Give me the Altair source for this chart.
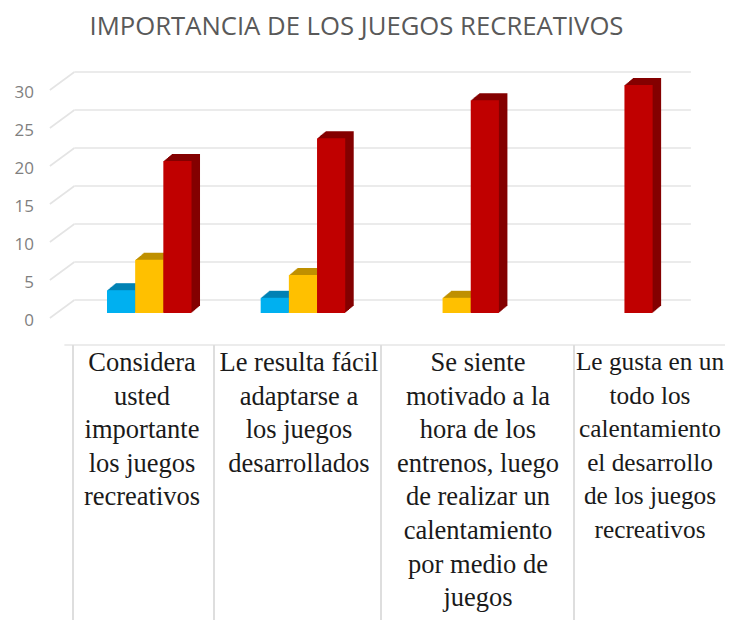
import altair as alt
import pandas as pd

categories = ["Considera usted importante los juegos recreativos",
              "Le resulta fácil adaptarse a los juegos desarrollados",
              "Se siente motivado a la hora de los entrenos, luego de realizar un calentamiento por medio de juegos",
              "Le gusta en un todo los calentamiento el desarrollo de los juegos recreativos"]
series_names = ["A", "B", "C"]
values_a = [3, 2, 0, 0]
values_b = [7, 5, 2, 0]
values_c = [20, 23, 28, 30]
front_colors = ["#00b0f0", "#ffc000", "#c00000"]
dark_colors = ["#0082b4", "#bf9000", "#840000"]
ticks = [0, 5, 10, 15, 20, 25, 30]
label_lines = [
    ["Considera", "usted", "importante", "los juegos", "recreativos"],
    ["Le resulta fácil", "adaptarse a", "los juegos", "desarrollados"],
    ["Se siente", "motivado a la", "hora de los", "entrenos, luego", "de realizar un", "calentamiento", "por medio de", "juegos"],
    ["Le gusta en un", "todo los", "calentamiento", "el desarrollo", "de los juegos", "recreativos"],
]
title_text = "IMPORTANCIA DE LOS JUEGOS RECREATIVOS"

rows = []
for si, (name, vals) in enumerate(zip(series_names, [values_a, values_b, values_c])):
    for ci, v in enumerate(vals):
        if v > 0:
            rows.append({"cat": ci, "s": si, "series": name, "value": v})
df = pd.DataFrame(rows)
grid_df = pd.DataFrame({"v": ticks})

PLOT_W, PLOT_H = 614.8, 228
yscale = alt.Scale(domain=[0, 30], nice=False, zero=True)
xscale = alt.Scale(domain=[0, 4], nice=False, zero=True)
yaxis = alt.Axis(values=ticks, grid=False, domain=False, ticks=False, title=None, labelOverlap=False,
                 labelPadding=39, labelOffset=7.5, labelFontSize=17, labelFont="Open Sans",
                 labelColor="#7f7f7f")

grid_color = "#e4e4e4"
grid_back = alt.Chart(grid_df).transform_calculate(b="datum.v + 1.71").mark_rule(
    color=grid_color, strokeWidth=1.6).encode(
    y=alt.Y("b:Q", scale=yscale, axis=yaxis),
    x=alt.value(2), x2=alt.value(618.5))
grid_diag = alt.Chart(grid_df).transform_calculate(a="datum.v - 0.66", b="datum.v + 1.71").mark_rule(
    color=grid_color, strokeWidth=1.6).encode(
    y=alt.Y("a:Q", scale=yscale, axis=yaxis),
    y2="b:Q", x=alt.value(-22.5), x2=alt.value(2))


def bars(dx_px, dy_px, colors):
    dx, dy = dx_px / (PLOT_W / 4), dy_px / (PLOT_H / 30)
    return alt.Chart(df).transform_calculate(
        x0=f"datum.cat + 0.225 + 0.55 * datum.s / 3 + {dx}",
        x1=f"datum.cat + 0.225 + 0.55 * (datum.s + 1) / 3 + {dx}",
        y0=f"{dy}",
        y1=f"datum.value + {dy}",
    ).mark_rect().encode(
        x=alt.X("x0:Q", scale=xscale, axis=None), x2="x1:Q",
        y=alt.Y("y1:Q", scale=yscale, axis=yaxis), y2="y0:Q",
        color=alt.Color("series:N", legend=None, scale=alt.Scale(domain=series_names, range=colors)),
    )


depth_layers = [bars(i * 8.5 / 9, i * 7 / 9, dark_colors) for i in range(9, 0, -1)]
front = bars(0, 0, front_colors)

line_color = "#dedede"
v_lines = [alt.Chart(grid_df.head(1)).mark_rule(color=line_color, strokeWidth=2).encode(
    x=alt.value(px), y=alt.value(260), y2=alt.value(535)) for px in [0.6, 141.6, 308.6, 501.6]]
h_line = alt.Chart(grid_df.head(1)).mark_rule(color="#ececec", strokeWidth=2).encode(
    x=alt.value(-8), x2=alt.value(660.6), y=alt.value(260))

text_layers = []
for lines, cx, fs in zip(label_lines, [69.6, 226.6, 405.6, 577.6], [26.5, 26.5, 26.5, 25.3]):
    text_layers.append(
        alt.Chart(pd.DataFrame({"label": ["\n".join(lines)]})).mark_text(
            font="Liberation Serif", fontSize=fs, color="#1a1a1a", align="center",
            baseline="top", lineBreak="\n", lineHeight=33.6).encode(
            x=alt.value(cx), y=alt.value(265), text="label:N"))

chart = alt.layer(grid_back, grid_diag, *depth_layers, front, h_line, *v_lines, *text_layers).resolve_scale(
    color="independent").properties(
    width=PLOT_W, height=PLOT_H,
    title=alt.TitleParams(title_text, anchor="start", dx=75.5, offset=31, font="Open Sans", fontSize=25.7,
                          fontWeight="normal", color="#595959"),
    autosize=alt.AutoSizeParams(type="none"),
    padding={"left": 64.4, "top": 77, "right": 37.8, "bottom": 307},
).configure_view(stroke=None)

chart.save("out.html", embed_options={"renderer": "svg", "actions": False})
